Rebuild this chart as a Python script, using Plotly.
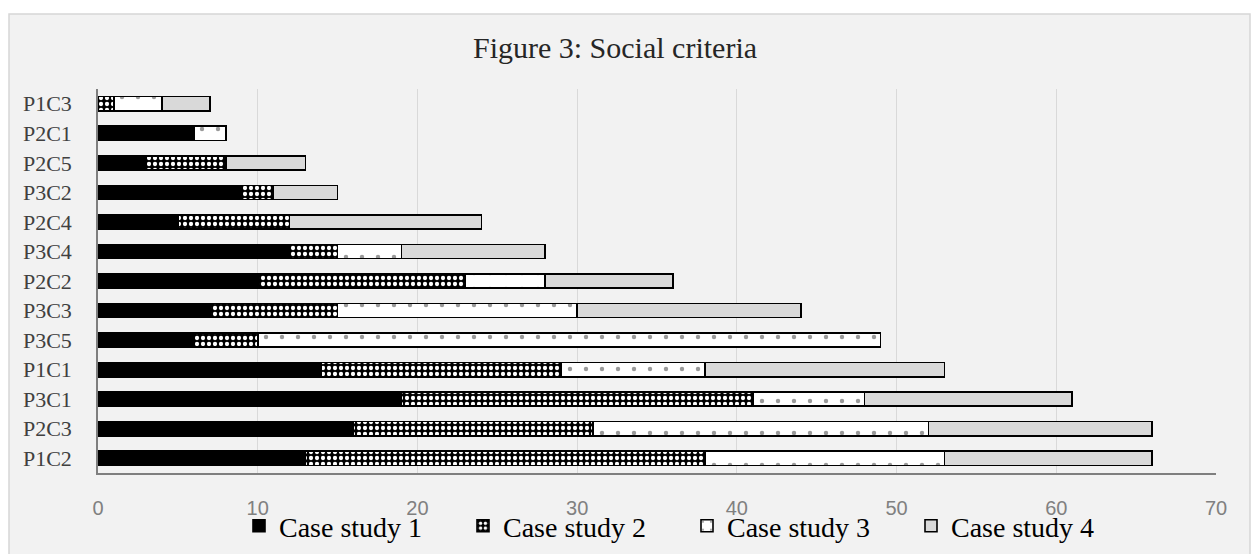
import plotly.graph_objects as go

# Criteria, listed from top to bottom of the chart
criteria = ["P1C3", "P2C1", "P2C5", "P3C2", "P2C4", "P3C4", "P2C2",
            "P3C3", "P3C5", "P1C1", "P3C1", "P2C3", "P1C2"]

case_study_1 = [0, 6, 3, 9, 5, 12, 10, 7, 6, 14, 19, 16, 13]
case_study_2 = [1, 0, 5, 2, 7, 3, 13, 8, 4, 15, 22, 15, 25]
case_study_3 = [3, 2, 0, 0, 0, 4, 5, 15, 39, 9, 7, 21, 15]
case_study_4 = [3, 0, 5, 4, 12, 9, 8, 14, 0, 15, 13, 14, 13]

series_names = ["Case study 1", "Case study 2", "Case study 3", "Case study 4"]
x_ticks = [0, 10, 20, 30, 40, 50, 60, 70]

W, H = 1253, 554
L, R, T, B = 98, 37, 89, 81
plot_w = W - L - R
plot_h = H - T - B

SERIF = "Liberation Serif, Times New Roman, serif"

styles = [
    dict(color="#000000"),
    dict(color="#000000",
         pattern=dict(shape=".", fgcolor="#ffffff", bgcolor="#000000",
                      size=6, solidity=0.4, fillmode="replace")),
    dict(color="#ffffff",
         pattern=dict(shape=".", fgcolor="#9a9a9a", bgcolor="#ffffff",
                      size=16, solidity=0.06, fillmode="replace")),
    dict(color="#d9d9d9"),
]

fig = go.Figure()
for name, vals, st in zip(series_names,
                          [case_study_1, case_study_2, case_study_3, case_study_4],
                          styles):
    fig.add_trace(go.Bar(
        y=criteria, x=vals, name=name, orientation="h",
        marker=dict(line=dict(color="#000000", width=1.6), **st),
    ))


def px_to_paper_x(px):
    return (px - L) / plot_w


def px_to_paper_y(py):
    return (H - B - py) / plot_h


# Light grey chart frame behind everything
fig.add_shape(type="rect", xref="paper", yref="paper", layer="below",
              x0=px_to_paper_x(9), x1=px_to_paper_x(1250),
              y0=px_to_paper_y(565), y1=px_to_paper_y(14),
              fillcolor="#f2f2f2", line=dict(color="#d6d6d6", width=1.5))

fig.update_layout(
    width=W, height=H,
    margin=dict(l=L, r=R, t=T, b=B, autoexpand=False),
    barmode="stack",
    bargap=0.52,
    paper_bgcolor="#ffffff",
    plot_bgcolor="rgba(0,0,0,0)",
    title=dict(text="Figure 3: Social criteria", x=615 / W, xanchor="center",
               y=1 - 47 / H, yanchor="middle",
               font=dict(family=SERIF, size=30, color="#262626")),
    legend=dict(orientation="h", x=px_to_paper_x(239), xanchor="left",
                y=px_to_paper_y(526), yanchor="middle",
                font=dict(family=SERIF, size=28, color="#000000"),
                bgcolor="rgba(0,0,0,0)", itemwidth=30, traceorder="normal",
                entrywidth=179, entrywidthmode="pixels"),
    xaxis=dict(range=[0, 70], tickvals=x_ticks, showgrid=True,
               gridcolor="#d9d9d9", gridwidth=1, zeroline=False,
               showline=True, linecolor="#7f7f7f", linewidth=1.5,
               ticks="", ticklabelstandoff=16,
               tickfont=dict(family="Liberation Sans, Arial, sans-serif",
                             size=20, color="#808080")),
    yaxis=dict(autorange="reversed", showgrid=False, zeroline=False,
               showline=True, linecolor="#7f7f7f", linewidth=1.5,
               ticks="", ticklabelstandoff=20,
               tickfont=dict(family=SERIF, size=22, color="#404040")),
)

fig.write_html("out.html")
